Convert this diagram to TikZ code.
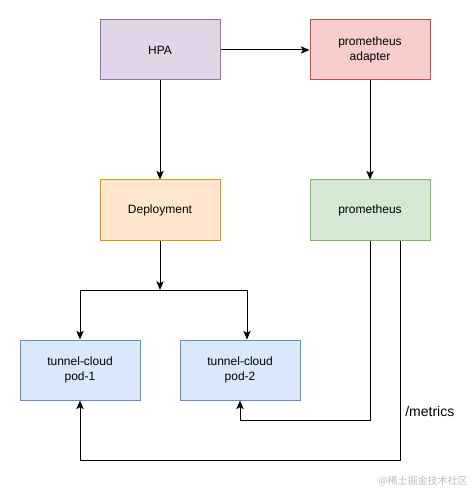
\documentclass[tikz,border=0pt]{standalone}
\usepackage{fontspec}
\setmainfont{Liberation Sans}
\newfontfamily\cjk{Noto Sans CJK SC}
\usetikzlibrary{arrows.meta}
\definecolor{pfill}{HTML}{E1D5E7}\definecolor{pdraw}{HTML}{9673A6}
\definecolor{rfill}{HTML}{F8CECC}\definecolor{rdraw}{HTML}{B85450}
\definecolor{ofill}{HTML}{FFE6CC}\definecolor{odraw}{HTML}{D79B00}
\definecolor{gfill}{HTML}{D5E8D4}\definecolor{gdraw}{HTML}{82B366}
\definecolor{bfill}{HTML}{DAE8FC}\definecolor{bdraw}{HTML}{6C8EBF}
\definecolor{wm}{HTML}{BDBDBD}
\tikzset{
  box/.style={rectangle, minimum width=90pt, minimum height=45pt, inner sep=0pt, align=center, font=\fontsize{9}{11}\selectfont, line width=0.75pt},
  conn/.style={line width=0.75pt, -{Stealth[length=6.5pt,width=5.5pt,inset=1.5pt]}},
  plain/.style={line width=0.75pt}
}
\begin{document}
\begin{tikzpicture}[x=0.75pt,y=-0.75pt]
\useasboundingbox (0,0) rectangle (471,491);
\node[box, fill=pfill, draw=pdraw] (hpa) at (160,50) {HPA};
\node[box, fill=rfill, draw=rdraw] (adp) at (370,50) {prometheus\\adapter};
\node[box, fill=ofill, draw=odraw] (dep) at (160,210) {Deployment};
\node[box, fill=gfill, draw=gdraw] (prom) at (370,210) {prometheus};
\node[box, fill=bfill, draw=bdraw] (pod1) at (80,370) {tunnel-cloud\\pod-1};
\node[box, fill=bfill, draw=bdraw] (pod2) at (240,370) {tunnel-cloud\\pod-2};
\coordinate (j) at (160,290);
\coordinate (jl) at (80,290);
\coordinate (jr) at (247,290);
\coordinate (a1) at (370,420);
\coordinate (a2) at (240,420);
\coordinate (b1) at (400,460);
\coordinate (b2) at (80,460);
\draw[conn] (hpa) -- (adp);
\draw[conn] (hpa) -- (dep);
\draw[conn] (adp) -- (prom);
\draw[conn] (dep) -- (j);
\draw[conn] (jl) -- (pod1.north);
\draw[conn] (jr) -- (jr |- pod2.north);
\draw[plain] (jl) -- (jr);
\draw[conn] (prom.south) -- (a1) -- (a2) -- (pod2.south);
\draw[conn] (b1 |- prom.south) -- (b1) -- (b2) -- (pod1.south);
\node[anchor=west, font=\fontsize{10.5}{12}\selectfont, inner sep=0pt] (met) at (405,411) {/metrics};
\node[anchor=east, font=\cjk\fontsize{7.5}{9}\selectfont, text=wm, inner sep=0pt] (wmk) at (468,481) {@稀土掘金技术社区};
\end{tikzpicture}
\end{document}
